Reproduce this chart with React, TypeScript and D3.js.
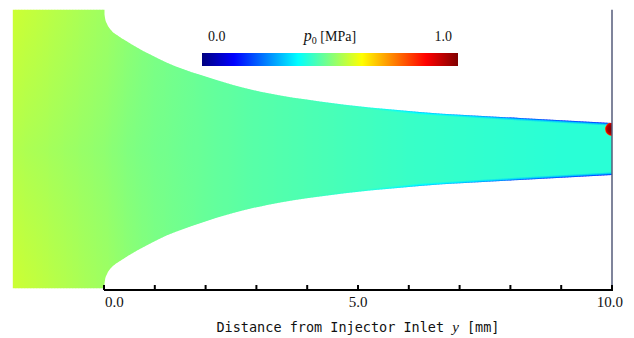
import React from 'react';
import * as d3 from 'd3';

const W = 634;
const H = 338;

// stations along the injector [mm] and total pressure p0 [MPa]
const stations = [-1.8, -1, 0, 0.5, 1, 2, 3, 4, 5, 6, 7, 8, 9, 10];
const centerP0 = [0.55, 0.535, 0.515, 0.5, 0.49, 0.475, 0.46, 0.45, 0.44, 0.43, 0.425, 0.42, 0.415, 0.415];
const edgeP0 = [0.575, 0.555, 0.53, 0.51, 0.495, 0.475, 0.46, 0.45, 0.44, 0.43, 0.425, 0.42, 0.415, 0.415];
const wallP0 = [0.575, 0.555, 0.53, 0.51, 0.495, 0.475, 0.46, 0.45, 0.4, 0.32, 0.25, 0.2, 0.17, 0.15];

// wall contour: distance y [mm] -> half width [mm]
const wallY = [0, 0.02, 0.06, 0.14, 0.26, 0.43, 0.65, 0.91, 1.24, 1.89, 2.54, 3.21, 4.25, 6.22, 8.19, 10];
const wallR = [2.74, 2.58, 2.46, 2.34, 2.24, 2.13, 2.0, 1.86, 1.7, 1.46, 1.26, 1.1, 0.935, 0.73, 0.61, 0.51];
const plenumStart = -1.8;

const xTicks = d3.range(0, 11);
const xLabelValues = [0, 5, 10];
const xLabelTexts = ['0.0', '5.0', '10.0'];

const cbValues = [0, 1];
const cbTexts = ['0.0', '1.0'];
const jetColors = ['#00007f', '#0000ff', '#00ffff', '#ffff00', '#ff0000', '#7f0000'];
const jetStops = [0, 0.125, 0.375, 0.625, 0.875, 1];

export default function App() {
  const x = d3.scaleLinear().domain([0, 10]).range([104, 612]);
  const y = d3.scaleLinear().domain([0, 1]).range([149, 149 - 50.8]);
  const jet = d3.scaleLinear<string>()
    .domain(jetStops)
    .range(jetColors)
    .interpolate(d3.interpolateRgb)
    .clamp(true);

  const rAt = d3.scaleLinear().domain(wallY).range(wallR).clamp(true);
  const cAt = d3.scaleLinear().domain(stations).range(centerP0).clamp(true);
  const eAt = d3.scaleLinear().domain(stations).range(edgeP0).clamp(true);
  const wAt = d3.scaleLinear().domain(stations).range(wallP0).clamp(true);

  const R0 = wallR[0];
  const nozzleArea = d3.area<number>()
    .x(i => x(wallY[i]))
    .y0(i => y(-wallR[i]))
    .y1(i => y(wallR[i]))
    .curve(d3.curveMonotoneX)(wallY.map((_, i) => i))!;

  // field columns
  const step = 3;
  const cols: { x0: number; y1: number; y2: number; stops: [number, string][] }[] = [];
  for (let px = x(plenumStart); px < x(10); px += step) {
    const mm = x.invert(px + step / 2);
    const R = mm < 0 ? R0 : rAt(mm);
    const y1 = y(R);
    const y2 = y(-R);
    const bl = Math.min(0.2, 3 / (y2 - y1));
    const w = wAt(mm);
    const e = eAt(mm);
    const mid = jet(w + (e - w) * 0.6);
    cols.push({
      x0: px, y1, y2,
      stops: [[0, jet(w)], [bl * 0.45, mid], [bl, jet(e)], [0.5, jet(cAt(mm))], [1 - bl, jet(e)], [1 - bl * 0.45, mid], [1, jet(w)]],
    });
  }

  const axisY = 290;
  const spotX = x(10);
  const spotY = y(wallR[wallR.length - 1]) + 6;
  const cb = d3.scaleLinear().domain([0, 1]).range([202, 458]);

  return (
    <svg width={W} height={H} style={{ position: 'absolute', left: 0, top: 0, background: '#fff' }}>
      <defs>
        <clipPath id="nozzle">
          <rect x={x(plenumStart)} y={y(R0)} width={x(0) - x(plenumStart) + 0.5} height={y(-R0) - y(R0)} />
          <path d={nozzleArea} />
        </clipPath>
        {cols.map((c, i) => (
          <linearGradient key={i} id={`col${i}`} gradientUnits="userSpaceOnUse" x1={0} y1={c.y1} x2={0} y2={c.y2}>
            {c.stops.map(([o, col], j) => <stop key={j} offset={o} stopColor={col} />)}
          </linearGradient>
        ))}
        <linearGradient id="cbar" x1="0" y1="0" x2="1" y2="0">
          {jetColors.map((c, i) => <stop key={i} offset={jetStops[i]} stopColor={c} />)}
        </linearGradient>
        <radialGradient id="spot">
          <stop offset="0" stopColor="#7a0000" />
          <stop offset="0.6" stopColor="#a00000" />
          <stop offset="0.85" stopColor="#e00000" />
          <stop offset="1" stopColor="#ff7000" />
        </radialGradient>
      </defs>

      <g clipPath="url(#nozzle)">
        {cols.map((c, i) => (
          <rect key={i} x={c.x0} y={c.y1 - 2} width={step + 0.6} height={c.y2 - c.y1 + 4} fill={`url(#col${i})`} />
        ))}
        <circle cx={spotX} cy={spotY} r={7} fill="url(#spot)" />
      </g>

      <line x1={x(10)} x2={x(10)} y1={y(R0)} y2={axisY} stroke="#555b7a" strokeWidth={1.5} />

      {/* axis */}
      <line x1={x(0)} x2={x(10) + 1} y1={axisY} y2={axisY} stroke="#000" strokeWidth={2} />
      {xTicks.map(t => (
        <line key={t} x1={x(t)} x2={x(t)} y1={axisY - 5} y2={axisY} stroke="#000" strokeWidth={2} />
      ))}
      {xLabelValues.map((v, i) => (
        <text key={v} x={x(v) + (i === 0 ? 1 : i === 2 ? 11 : 0)} y={307}
          textAnchor={i === 0 ? 'start' : i === 2 ? 'end' : 'middle'}
          fontFamily="'Liberation Serif', 'DejaVu Serif', serif" fontSize={15} fill="#111">
          {xLabelTexts[i]}
        </text>
      ))}
      <text x={x(5)} y={332} textAnchor="middle" fontFamily="'DejaVu Sans Mono', 'Liberation Mono', monospace" fontSize={13.5} fill="#111">
        Distance from Injector Inlet <tspan fontFamily="'Liberation Serif', serif" fontStyle="italic" fontSize={15}>y</tspan> [mm]
      </text>

      {/* colour bar */}
      <rect x={cb(0)} y={53} width={cb(1) - cb(0)} height={13} fill="url(#cbar)" />
      {cbValues.map((v, i) => (
        <text key={v} x={i === 0 ? cb(v) + 6 : cb(v) - 6} y={41} textAnchor={i === 0 ? 'start' : 'end'}
          fontFamily="'Liberation Serif', 'DejaVu Serif', serif" fontSize={14} fill="#111">
          {cbTexts[i]}
        </text>
      ))}
      <text x={cb(0.5)} y={41} textAnchor="middle" fontFamily="'Liberation Serif', 'DejaVu Serif', serif" fontSize={14} fill="#111">
        <tspan fontStyle="italic" fontSize={16}>p</tspan>
        <tspan fontSize={10} dy={3}>0</tspan>
        <tspan dy={-3}> [MPa]</tspan>
      </text>
    </svg>
  );
}
